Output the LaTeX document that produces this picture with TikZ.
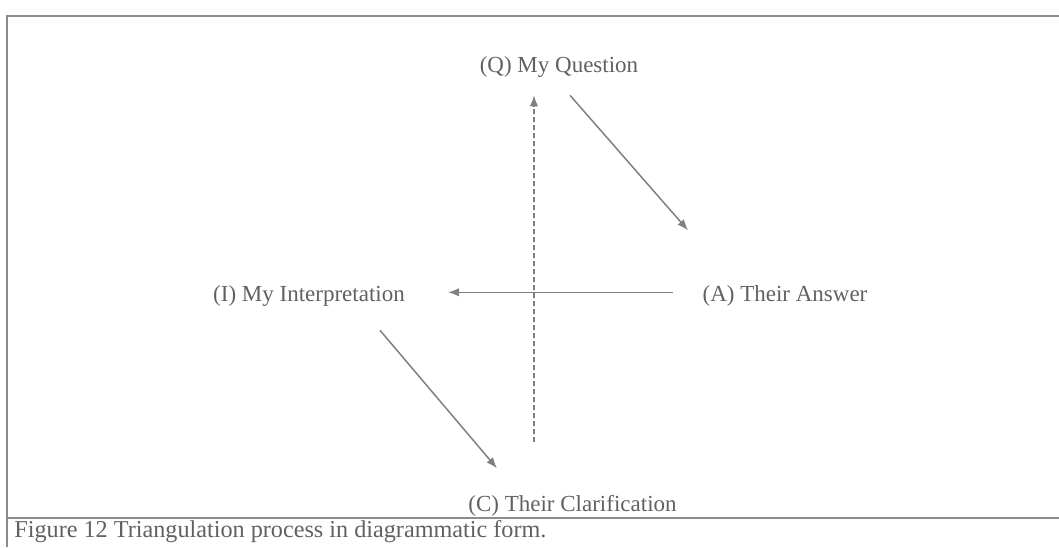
\documentclass[tikz,border=0pt]{standalone}
\usepackage{fontspec}
\setmainfont{Liberation Serif}
\usetikzlibrary{arrows.meta}
\begin{document}
\begin{tikzpicture}[x=0.5pt, y=-0.5pt,
    lbl/.style={inner sep=0pt, text=black!62, font=\fontsize{11.5}{13}\selectfont},
    arr/.style={-{Latex[length=5.5pt, width=4.2pt]}, draw=black!50, line width=0.75pt},
    frame/.style={draw=black!45, line width=1pt}]
    \useasboundingbox (0,0) rectangle (1059,547);
    \draw [frame] (7,547) -- (7,16) -- (1059,16);
    \draw [frame] (7,518) -- (1059,518);
    \node [lbl] (que) at (559,67.3)                 {(Q) My Question};
    \node [lbl] (ans) at ([shift={(226,229)}]  que) {(A) Their Answer};
    \node [lbl] (itp) at ([shift={(-476,0)}]   ans) {(I) My Interpretation};
    \node [lbl] (cla) at ([shift={(13.5,439)}] que) {(C) Their Clarification};
    \node [lbl, anchor=base west, font=\fontsize{12.1}{14}\selectfont]
      (cap) at (14,537) {Figure 12 Triangulation process in diagrammatic form.};
    \draw [arr] ([shift={(11,28)}] que.center) to ([shift={(-97,-66)}] ans.center);
    \draw [arr] ([shift={(-112,-4)}] ans.center) to ([shift={(139,-4)}] itp.center);
    \draw [arr] ([shift={(71,34)}] itp.center) to ([shift={(-75.5,-38)}] cla.center);
    \draw [arr, dash pattern=on 2.5pt off 1.5pt] ([shift={(-38.5,-64)}] cla.center) to ([shift={(-25,28)}] que.center);
  \end{tikzpicture}
\end{document}
